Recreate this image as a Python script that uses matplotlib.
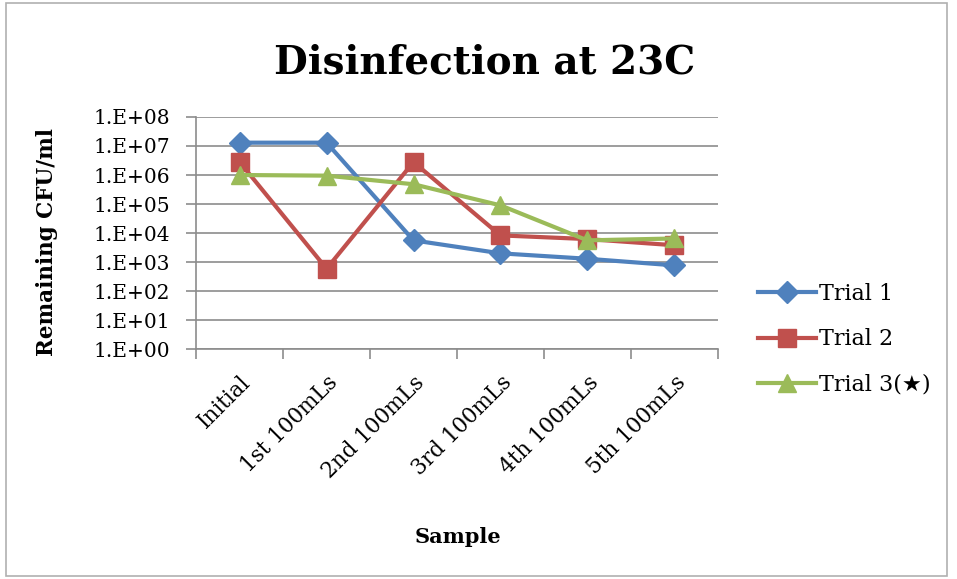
import numpy as np
import matplotlib
matplotlib.use('Agg')
import matplotlib.pyplot as plt
from matplotlib.ticker import FixedLocator, FuncFormatter
from matplotlib.patches import Rectangle

samples = ['Initial', '1st 100mLs', '2nd 100mLs', '3rd 100mLs', '4th 100mLs', '5th 100mLs']
trial1 = [1.3e7, 1.3e7, 5.6e3, 2.0e3, 1.3e3, 7.7e2]
trial2 = [2.8e6, 5.9e2, 2.8e6, 8.3e3, 6.2e3, 3.8e3]
trial3 = [1.0e6, 9.5e5, 4.8e5, 9.0e4, 5.6e3, 6.5e3]
series_names = ['Trial 1', 'Trial 2', 'Trial 3(\u2605)']


def main():
    plt.rcParams['font.family'] = ['DejaVu Serif', 'DejaVu Sans']
    fig = plt.figure(figsize=(9.57, 5.79), dpi=100)
    fig.patches.append(Rectangle((0.006, 0.006), 0.984, 0.988, transform=fig.transFigure,
                                 fill=False, edgecolor='#b0b0b0', linewidth=1.2))
    ax = fig.add_axes([0.205, 0.397, 0.545, 0.401])

    x = np.arange(len(samples))
    ax.plot(x, trial1, color='#4F81BD', lw=3, marker='D', ms=11, label=series_names[0])
    ax.plot(x, trial2, color='#C0504D', lw=3, marker='s', ms=13, label=series_names[1])
    ax.plot(x, trial3, color='#9BBB59', lw=3, marker='^', ms=13, label=series_names[2])

    ax.set_yscale('log')
    ax.set_ylim(1, 1e8)
    ax.set_xlim(-0.5, len(samples) - 0.5)
    ax.yaxis.set_major_locator(FixedLocator([10.0 ** k for k in range(9)]))
    ax.yaxis.set_minor_locator(FixedLocator([]))
    ax.yaxis.set_major_formatter(FuncFormatter(lambda v, p: '1.E+%02d' % int(round(np.log10(v)))))
    ax.grid(axis='y', color='#8c8c8c', lw=1.2)
    ax.set_axisbelow(True)

    ax.xaxis.set_major_locator(FixedLocator(np.arange(-0.5, len(samples), 1.0)))
    ax.xaxis.set_major_formatter(FuncFormatter(lambda v, p: ''))
    ax.set_xticks(x, minor=True)
    ax.set_xticklabels(samples, minor=True, rotation=45, ha='right', rotation_mode='anchor', fontsize=15.5)
    ax.tick_params(axis='x', which='minor', length=0, pad=16)
    ax.tick_params(axis='x', which='major', length=7, color='#8c8c8c', width=1.2)
    ax.tick_params(axis='y', length=7, color='#8c8c8c', width=1.2, labelsize=14.5, pad=12)

    for side in ['top', 'right']:
        ax.spines[side].set_visible(False)
    for side in ['left', 'bottom']:
        ax.spines[side].set_color('#8c8c8c')
        ax.spines[side].set_linewidth(1.2)

    fig.suptitle('Disinfection at 23C', x=0.506, y=0.925, fontsize=28, fontweight='bold')
    ax.set_ylabel('Remaining CFU/ml', fontsize=15.5, fontweight='bold')
    ax.yaxis.set_label_coords(-0.264, 0.46)
    fig.text(0.478, 0.062, 'Sample', ha='center', fontsize=15, fontweight='bold')

    ax.legend(loc='center left', bbox_to_anchor=(0.792, 0.414), bbox_transform=fig.transFigure,
              frameon=False, prop={'size': 16}, borderpad=0, borderaxespad=0,
              labelspacing=1.05, handlelength=2.6, handletextpad=0.15)

    plt.savefig('out.png', dpi=100)


if __name__ == '__main__':
    main()
